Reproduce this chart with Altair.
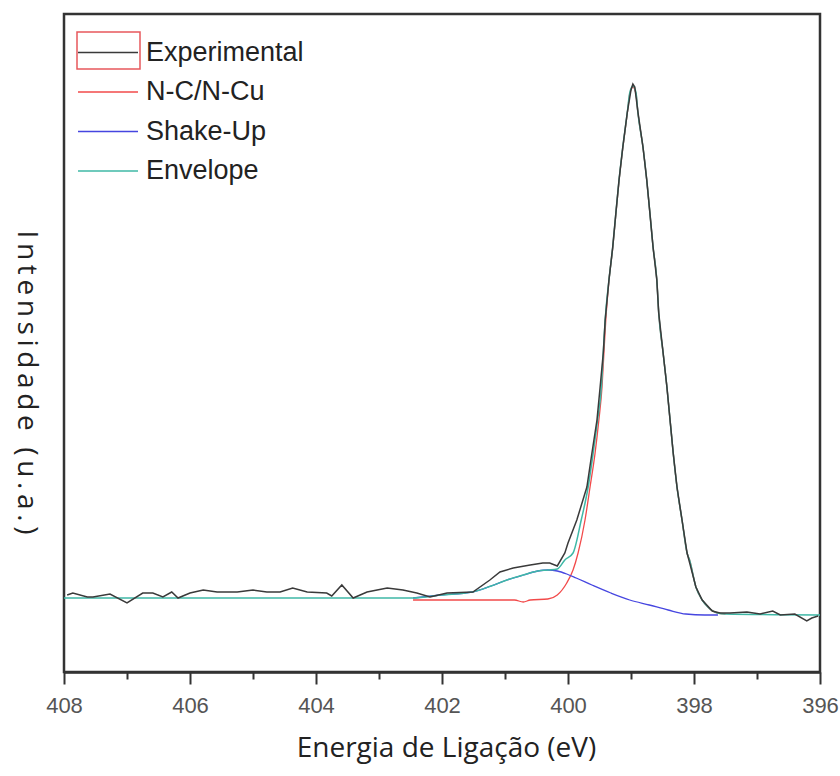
import altair as alt
import pandas as pd

SERIES = ["Experimental", "N-C/N-Cu", "Shake-Up", "Envelope"]
COLORS = ["#3a3a3a", "#f24a4a", "#4646e0", "#3fb8a6"]
X_TICKS = list(range(396, 409))

exp_energy = [407.95, 407.86, 407.63, 407.54, 407.27, 407.00, 406.75, 406.59, 406.43, 406.29,
              406.19, 406.00, 405.79, 405.57, 405.25, 405.00, 404.78, 404.57, 404.37, 404.14,
              403.83, 403.75, 403.59, 403.41, 403.19, 402.87, 402.62, 402.40, 402.19, 401.92,
              401.51, 401.24, 401.08, 400.87, 400.60, 400.40, 400.29, 400.17, 400.05, 400.00,
              399.86, 399.70, 399.62, 399.54, 399.49, 399.44, 399.41, 399.35, 399.29, 399.24,
              399.19, 399.13, 399.06, 399.00, 398.97, 398.94, 398.89, 398.81, 398.75, 398.70,
              398.65, 398.59, 398.56, 398.49, 398.43, 398.38, 398.33, 398.27, 398.19, 398.11,
              398.06, 397.97, 397.87, 397.71, 397.59, 397.43, 397.16, 396.95, 396.75, 396.63,
              396.40, 396.21, 396.13, 396.03]
exp_int = [77, 79, 75, 75, 78, 69, 79, 79, 75, 80,
           74, 79, 82, 80, 80, 82, 80, 80, 84, 80,
           79, 76, 87, 74, 80, 84, 82, 79, 75, 79,
           80, 92, 100, 104, 107, 109, 109, 106, 119, 129,
           152, 185, 219, 252, 285, 319, 352, 392, 425, 459,
           492, 525, 559, 582, 588, 585, 560, 525, 492, 459,
           425, 392, 359, 319, 285, 252, 219, 185, 152, 119,
           107, 85, 72, 61, 59, 59, 60, 58, 61, 57,
           58, 51, 54, 56]

red_energy = [402.46, 401.52, 400.85, 400.71, 400.60, 400.32, 400.17, 400.02, 399.92, 399.84,
              399.73, 399.65, 399.57, 399.51, 399.46, 399.43, 399.40, 399.35, 399.29, 399.24,
              399.19, 399.13, 399.06, 399.02, 398.97, 398.92, 398.89, 398.81, 398.75, 398.70,
              398.65, 398.59, 398.56, 398.49, 398.43, 398.38, 398.33, 398.27, 398.19, 398.11,
              398.07, 397.97, 397.87, 397.78, 397.63, 397.50]
red_int = [72, 72, 72, 70, 72, 73, 77, 89, 102, 119,
           152, 185, 219, 252, 285, 319, 352, 391, 424, 458,
           491, 524, 558, 578, 585, 578, 559, 525, 492, 459,
           425, 392, 359, 319, 285, 252, 219, 185, 152, 119,
           112, 85, 72, 65, 59, 58]

blue_energy = [402.46, 402.02, 401.52, 401.22, 400.97, 400.71, 400.48, 400.32, 400.17, 400.02,
               399.87, 399.62, 399.32, 399.02, 398.71, 398.41, 398.13, 397.83, 397.62]
blue_int = [74, 77, 80, 86, 92, 97, 101, 102, 101, 98,
            94, 87, 79, 72, 67, 62, 58, 57, 57]

env_energy = [408.00, 402.46, 402.02, 401.52, 401.22, 400.97, 400.71, 400.48, 400.32, 400.17,
              400.05, 399.92, 399.79, 399.68, 399.60, 399.53, 399.47, 399.44, 399.41, 399.35,
              399.29, 399.24, 399.19, 399.13, 399.06, 399.02, 398.97, 398.92, 398.89, 398.81,
              398.75, 398.70, 398.65, 398.59, 398.56, 398.49, 398.43, 398.38, 398.33, 398.27,
              398.19, 398.11, 398.07, 397.97, 397.87, 397.78, 397.63, 397.50, 396.00]
env_int = [74, 74, 77, 80, 86, 92, 97, 101, 102, 103,
           112, 119, 152, 185, 219, 252, 285, 319, 352, 392,
           425, 459, 492, 525, 559, 579, 586, 579, 559, 525,
           492, 459, 425, 392, 359, 319, 285, 252, 219, 185,
           152, 119, 112, 85, 72, 65, 59, 58, 57]

rows = []
for name, es, vs in [(SERIES[0], exp_energy, exp_int),
                     (SERIES[1], red_energy, red_int),
                     (SERIES[2], blue_energy, blue_int),
                     (SERIES[3], env_energy, env_int)]:
    rows += [{"energia": e, "intensidade": v, "serie": name} for e, v in zip(es, vs)]
df = pd.DataFrame(rows)

x_enc = alt.X(
    "energia:Q",
    scale=alt.Scale(domain=[396, 408], reverse=True, nice=False, zero=False),
    axis=alt.Axis(
        values=X_TICKS,
        format="d",
        labelExpr="datum.value % 2 == 0 ? datum.label : ''",
        tickSize={"condition": {"test": "datum.value % 2 == 0", "value": 12}, "value": 7},
        tickWidth=2,
        tickColor="#333333",
        domainColor="#333333",
        domainWidth=2.5,
        labelFont="Liberation Sans",
        labelFontSize=22,
        labelColor="#555555",
        labelPadding=11,
        labelFlush=False,
        labelOverlap=False,
        grid=False,
        title="Energia de Ligação (eV)",
        titleFont="Open Sans",
        titleFontSize=28,
        titleFontWeight="normal",
        titleColor="#222222",
        titlePadding=18,
        titleX=382,
    ),
)

y_title = "\u2009".join("Intensidade (u.a.)")
y_enc = alt.Y(
    "intensidade:Q",
    scale=alt.Scale(domain=[0, 658], nice=False),
    axis=alt.Axis(
        labels=False, ticks=False, domain=False, grid=False,
        title=y_title,
        titleAngle=90,
        titleX=-39,
        titleY=368,
        titleAlign="center",
        titleBaseline="middle",
        titleFont="Open Sans",
        titleFontSize=28,
        titleFontWeight="normal",
        titleColor="#222222",
    ),
)

color_enc = alt.Color(
    "serie:N",
    scale=alt.Scale(domain=SERIES, range=COLORS),
    legend=alt.Legend(
        title=None,
        orient="none",
        legendX=30.5,
        legendY=25,
        symbolType="M-3,0L3,0",
        symbolSize=400,
        symbolStrokeWidth=1.6,
        labelFont="Liberation Sans",
        labelFontSize=27,
        labelColor="#222222",
        labelOffset=24.5,
        labelLimit=400,
        rowPadding=11.5,
        padding=0,
    ),
)

base = alt.Chart(df).encode(x=x_enc, y=y_enc, color=color_enc)

red_layer = base.transform_filter(alt.datum.serie == SERIES[1]).mark_line(
    interpolate="monotone", strokeWidth=1.3)
blue_layer = base.transform_filter(alt.datum.serie == SERIES[2]).mark_line(
    interpolate="monotone", strokeWidth=1.3)
env_layer = base.transform_filter(alt.datum.serie == SERIES[3]).mark_line(
    interpolate="monotone", strokeWidth=1.5)
exp_layer = base.transform_filter(alt.datum.serie == SERIES[0]).mark_line(
    strokeWidth=1.5)

box = alt.Chart(pd.DataFrame({"k": [0]})).mark_rect(
    fillOpacity=0, stroke="#e8585c", strokeWidth=1.5
).encode(x=alt.value(13), x2=alt.value(76), y=alt.value(18), y2=alt.value(55))

chart = alt.layer(red_layer, blue_layer, env_layer, exp_layer, box).properties(
    width=756,
    height=658,
    padding={"left": 64, "top": 14, "right": 20, "bottom": 104},
    autosize=alt.AutoSizeParams(type="none"),
    background="white",
).configure_view(stroke="#333333", strokeWidth=2.5)

chart.save("out.html", embed_options={"renderer": "svg", "actions": False})
